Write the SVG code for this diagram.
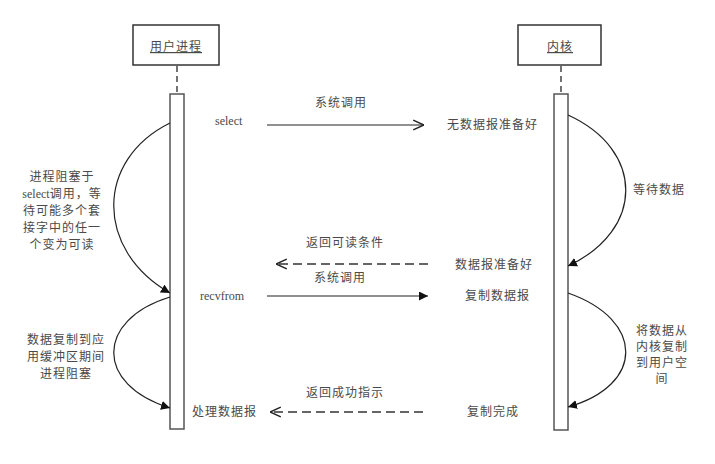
<svg xmlns="http://www.w3.org/2000/svg" width="715" height="464" viewBox="0 0 715 464">
<defs>
<style>
.t{font-family:"Liberation Serif","Noto Sans CJK SC",serif;font-size:12px;fill:#4a4a4a;letter-spacing:1px}
.c{text-anchor:middle}
.l{letter-spacing:0}
.box{fill:#fff;stroke:#333;stroke-width:1.5}
.bar{fill:#fff;stroke:#555;stroke-width:1.5}
.life{stroke:#444;stroke-width:1.5;stroke-dasharray:6,4;fill:none}
.ln{stroke:#222;stroke-width:1.2;fill:none}
.dash{stroke:#333;stroke-width:1.5;fill:none;stroke-dasharray:9,5}
</style>
<marker id="tri" viewBox="0 0 10 10" refX="10" refY="5" markerWidth="9" markerHeight="9" markerUnits="userSpaceOnUse" orient="auto">
<path d="M0,0 L10,5 L0,10 z" fill="#111"/>
</marker>
<marker id="open" viewBox="0 0 10 10" refX="10" refY="5" markerWidth="12" markerHeight="12" markerUnits="userSpaceOnUse" orient="auto">
<path d="M1,1 L10,5 L1,9" fill="none" stroke="#222" stroke-width="1.2"/>
</marker>
</defs>
<rect width="715" height="464" fill="#fff"/>
<g id="user">
<rect class="box" x="133" y="25" width="86" height="40"/>
<text class="t c" x="176" y="51" text-decoration="underline">用户进程</text>
<line class="life" x1="177" y1="66" x2="177" y2="94"/>
<rect class="bar" x="170" y="94" width="14" height="335"/>
</g>
<g id="kernel">
<rect class="box" x="518" y="25" width="83" height="40"/>
<text class="t c" x="560" y="51" text-decoration="underline">内核</text>
<line class="life" x1="561" y1="66" x2="561" y2="94"/>
<rect class="bar" x="554" y="94" width="14" height="336"/>
</g>
<g id="connectors">
<line class="ln" x1="267" y1="125" x2="424" y2="125" marker-end="url(#open)"/>
<line class="dash" x1="428" y1="264" x2="276" y2="264" marker-end="url(#open)"/>
<line class="ln" x1="267" y1="296" x2="428" y2="296" marker-end="url(#tri)"/>
<line class="dash" x1="423" y1="412" x2="270" y2="412" marker-end="url(#open)"/>
<path class="ln" d="M170,123 C95,160 95,250 170,293" marker-end="url(#tri)"/>
<path class="ln" d="M170,297 C95,320 95,385 170,408" marker-end="url(#tri)"/>
<path class="ln" d="M568,115 C645,150 645,230 568,266" marker-end="url(#tri)"/>
<path class="ln" d="M568,293 C645,320 645,385 568,407" marker-end="url(#tri)"/>
</g>
<g id="labels">
<text class="t l" x="215" y="125">select</text>
<text class="t c" x="341" y="107">系统调用</text>
<text class="t" x="447" y="129">无数据报准备好</text>
<text class="t c" x="345" y="247">返回可读条件</text>
<text class="t" x="455" y="269">数据报准备好</text>
<text class="t c" x="340" y="282">系统调用</text>
<text class="t l" x="200" y="300">recvfrom</text>
<text class="t" x="465" y="300">复制数据报</text>
<text class="t c" x="345" y="397">返回成功指示</text>
<text class="t" x="192" y="416">处理数据报</text>
<text class="t" x="467" y="416">复制完成</text>
<text class="t" x="633" y="194">等待数据</text>
<text class="t c" x="62"><tspan x="62" y="181">进程阻塞于</tspan><tspan x="62" y="198"><tspan class="l">select</tspan>调用，等</tspan><tspan x="62" y="215">待可能多个套</tspan><tspan x="62" y="232">接字中的任一</tspan><tspan x="62" y="249">个变为可读</tspan></text>
<text class="t c" x="66"><tspan x="66" y="344">数据复制到应</tspan><tspan x="66" y="361">用缓冲区期间</tspan><tspan x="66" y="378">进程阻塞</tspan></text>
<text class="t c" x="662"><tspan x="662" y="335">将数据从</tspan><tspan x="662" y="351">内核复制</tspan><tspan x="662" y="367">到用户空</tspan><tspan x="662" y="383">间</tspan></text>
</g>
</svg>
